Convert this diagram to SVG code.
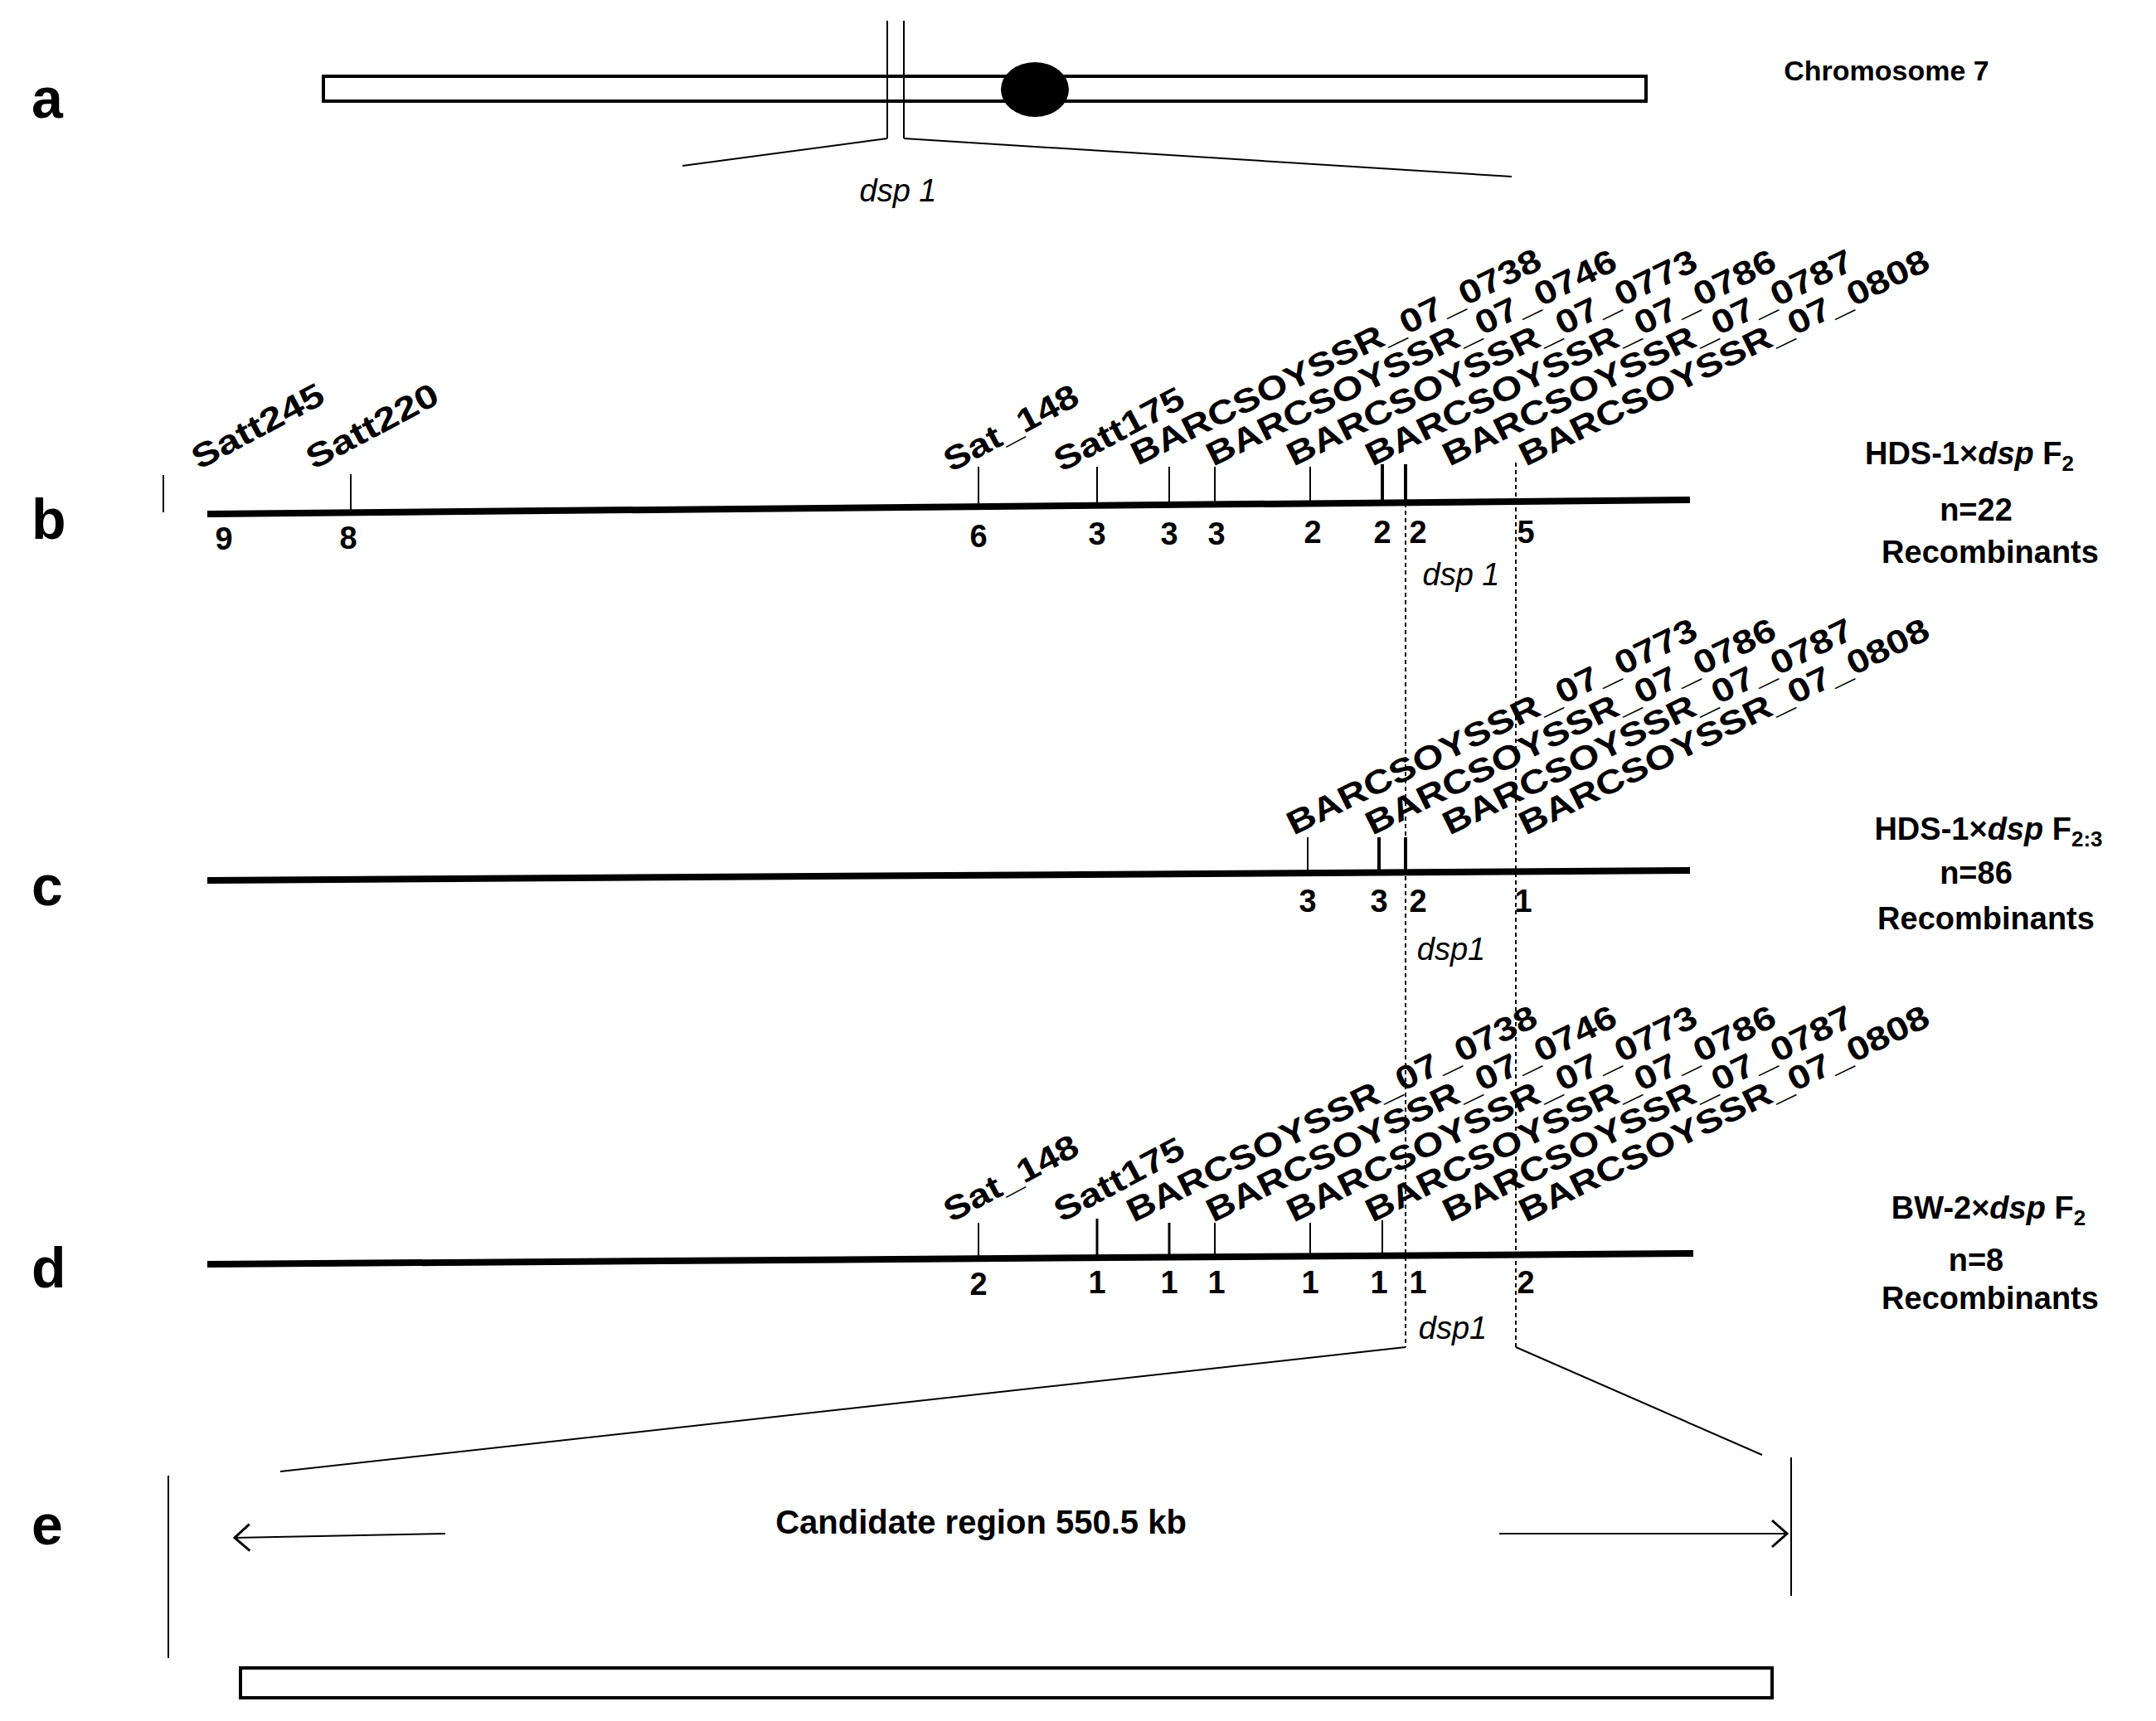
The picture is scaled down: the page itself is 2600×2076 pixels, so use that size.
<svg xmlns="http://www.w3.org/2000/svg" width="2600" height="2076" viewBox="0 0 2600 2076">
<style>
text{font-family:"Liberation Sans",Arial,sans-serif;fill:#000}
.lab{font-size:68px;font-weight:bold}
.mk{font-size:40px;font-weight:bold}
.num{font-size:38px;font-weight:bold;text-anchor:middle}
.side{font-size:38px;font-weight:bold;text-anchor:middle}
.it{font-style:italic;font-weight:normal;font-size:38px}
.thin{stroke:#000;stroke-width:2;fill:none}
.chr{stroke:#000;stroke-width:8;fill:none}
.dash{stroke:#000;stroke-width:2;stroke-dasharray:5,4;fill:none}
</style>
<defs>
<marker id="ah" viewBox="0 0 20 20" refX="18" refY="10" markerWidth="20" markerHeight="20" markerUnits="userSpaceOnUse" orient="auto">
<path d="M2,2 L18,10 L2,18" fill="none" stroke="#000" stroke-width="2"/>
</marker>
<marker id="ahl" viewBox="0 0 40 40" refX="38" refY="20" markerWidth="40" markerHeight="40" markerUnits="userSpaceOnUse" orient="auto">
<path d="M20,4 L38,20 L20,36" fill="none" stroke="#000" stroke-width="3"/>
</marker>
</defs>
<rect width="2600" height="2076" fill="#fff"/>

<g id="panelA">
<text class="lab" x="38" y="142">a</text>
<rect x="390" y="92" width="1595" height="30" fill="#fff" stroke="#000" stroke-width="4"/>
<ellipse cx="1248" cy="108" rx="41" ry="33" fill="#000"/>
<line class="thin" x1="1070" y1="25" x2="1070" y2="167" stroke-width="3"/>
<line class="thin" x1="1090" y1="25" x2="1090" y2="167" stroke-width="3"/>
<text x="2275" y="97" font-size="34" font-weight="bold" text-anchor="middle">Chromosome 7</text>
<text class="it" x="1083" y="243" text-anchor="middle">dsp 1</text>
</g>

<g id="panelB">
<text class="lab" x="38" y="650">b</text>
<line class="thin" x1="197" y1="573" x2="197" y2="618" stroke-width="3"/>
<line class="chr" x1="250" y1="620" x2="2038" y2="603"/>
<g class="thin">
<line x1="423" y1="572" x2="423" y2="618"/>
<line x1="1180" y1="563" x2="1180" y2="612"/>
<line x1="1323" y1="563" x2="1323" y2="610"/>
<line x1="1410" y1="563" x2="1410" y2="610"/>
<line x1="1465" y1="563" x2="1465" y2="610"/>
<line x1="1580" y1="563" x2="1580" y2="608"/>
<line x1="1667" y1="560" x2="1667" y2="607" stroke-width="4"/>
<line x1="1695" y1="560" x2="1695" y2="607" stroke-width="4"/>
</g>
<text class="mk" transform="rotate(-28 240 567)" x="240" y="567" textLength="175" lengthAdjust="spacingAndGlyphs">Satt245</text>
<text class="mk" transform="rotate(-28 378 567)" x="378" y="567" textLength="175" lengthAdjust="spacingAndGlyphs">Satt220</text>
<text class="mk" transform="rotate(-28 1147 570)" x="1147" y="570" textLength="178" lengthAdjust="spacingAndGlyphs">Sat_148</text>
<text class="mk" transform="rotate(-28 1280 570)" x="1280" y="570" textLength="172" lengthAdjust="spacingAndGlyphs">Satt175</text>
<text class="mk" transform="rotate(-26 1372 562)" x="1372" y="562" textLength="545" lengthAdjust="spacingAndGlyphs">BARCSOYSSR_07_0738</text>
<text class="mk" transform="rotate(-26 1463 563)" x="1463" y="563" textLength="545" lengthAdjust="spacingAndGlyphs">BARCSOYSSR_07_0746</text>
<text class="mk" transform="rotate(-26 1560 563)" x="1560" y="563" textLength="545" lengthAdjust="spacingAndGlyphs">BARCSOYSSR_07_0773</text>
<text class="mk" transform="rotate(-26 1655 563)" x="1655" y="563" textLength="545" lengthAdjust="spacingAndGlyphs">BARCSOYSSR_07_0786</text>
<text class="mk" transform="rotate(-26 1748 563)" x="1748" y="563" textLength="545" lengthAdjust="spacingAndGlyphs">BARCSOYSSR_07_0787</text>
<text class="mk" transform="rotate(-26 1840 563)" x="1840" y="563" textLength="545" lengthAdjust="spacingAndGlyphs">BARCSOYSSR_07_0808</text>
<text class="num" x="270" y="663">9</text>
<text class="num" x="420" y="662">8</text>
<text class="num" x="1180" y="660">6</text>
<text class="num" x="1323" y="657">3</text>
<text class="num" x="1410" y="657">3</text>
<text class="num" x="1467" y="657">3</text>
<text class="num" x="1583" y="655">2</text>
<text class="num" x="1667" y="655">2</text>
<text class="num" x="1710" y="655">2</text>
<text class="num" x="1840" y="655">5</text>
<text class="it" x="1762" y="706" text-anchor="middle">dsp 1</text>
<text class="side" x="2375" y="560">HDS-1×<tspan font-style="italic">dsp</tspan>   F<tspan font-size="26" dy="8">2</tspan></text>
<text class="side" x="2383" y="628">n=22</text>
<text class="side" x="2400" y="679">Recombinants</text>
</g>

<g id="panelC">
<text class="lab" x="38" y="1092">c</text>
<line class="chr" x1="250" y1="1062" x2="2038" y2="1050"/>
<g class="thin">
<line x1="1577" y1="1010" x2="1577" y2="1053"/>
<line x1="1663" y1="1010" x2="1663" y2="1052" stroke-width="4"/>
<line x1="1695" y1="1010" x2="1695" y2="1052" stroke-width="4"/>
</g>
<text class="mk" transform="rotate(-26 1560 1008)" x="1560" y="1008" textLength="545" lengthAdjust="spacingAndGlyphs">BARCSOYSSR_07_0773</text>
<text class="mk" transform="rotate(-26 1655 1008)" x="1655" y="1008" textLength="545" lengthAdjust="spacingAndGlyphs">BARCSOYSSR_07_0786</text>
<text class="mk" transform="rotate(-26 1748 1008)" x="1748" y="1008" textLength="545" lengthAdjust="spacingAndGlyphs">BARCSOYSSR_07_0787</text>
<text class="mk" transform="rotate(-26 1840 1008)" x="1840" y="1008" textLength="545" lengthAdjust="spacingAndGlyphs">BARCSOYSSR_07_0808</text>
<text class="num" x="1577" y="1100" font-weight="normal">3</text>
<text class="num" x="1663" y="1100">3</text>
<text class="num" x="1710" y="1100">2</text>
<text class="num" x="1837" y="1100" font-weight="normal">1</text>
<text class="it" x="1750" y="1158" text-anchor="middle">dsp1</text>
<text class="side" x="2398" y="1013">HDS-1×<tspan font-style="italic">dsp</tspan>   F<tspan font-size="26" dy="8">2:3</tspan></text>
<text class="side" x="2383" y="1066">n=86</text>
<text class="side" x="2395" y="1121">Recombinants</text>
</g>

<g id="panelD">
<text class="lab" x="38" y="1553">d</text>
<line class="chr" x1="250" y1="1525" x2="2042" y2="1512"/>
<g class="thin">
<line x1="1180" y1="1475" x2="1180" y2="1522"/>
<line x1="1323" y1="1470" x2="1323" y2="1520" stroke-width="3"/>
<line x1="1410" y1="1475" x2="1410" y2="1519" stroke-width="3"/>
<line x1="1465" y1="1475" x2="1465" y2="1519"/>
<line x1="1580" y1="1475" x2="1580" y2="1518"/>
<line x1="1667" y1="1472" x2="1667" y2="1517"/>
</g>
<text class="mk" transform="rotate(-28 1147 1475)" x="1147" y="1475" textLength="178" lengthAdjust="spacingAndGlyphs">Sat_148</text>
<text class="mk" transform="rotate(-28 1280 1475)" x="1280" y="1475" textLength="172" lengthAdjust="spacingAndGlyphs">Satt175</text>
<text class="mk" transform="rotate(-26 1367 1475)" x="1367" y="1475" textLength="545" lengthAdjust="spacingAndGlyphs">BARCSOYSSR_07_0738</text>
<text class="mk" transform="rotate(-26 1463 1475)" x="1463" y="1475" textLength="545" lengthAdjust="spacingAndGlyphs">BARCSOYSSR_07_0746</text>
<text class="mk" transform="rotate(-26 1560 1475)" x="1560" y="1475" textLength="545" lengthAdjust="spacingAndGlyphs">BARCSOYSSR_07_0773</text>
<text class="mk" transform="rotate(-26 1655 1475)" x="1655" y="1475" textLength="545" lengthAdjust="spacingAndGlyphs">BARCSOYSSR_07_0786</text>
<text class="mk" transform="rotate(-26 1748 1475)" x="1748" y="1475" textLength="545" lengthAdjust="spacingAndGlyphs">BARCSOYSSR_07_0787</text>
<text class="mk" transform="rotate(-26 1840 1475)" x="1840" y="1475" textLength="545" lengthAdjust="spacingAndGlyphs">BARCSOYSSR_07_0808</text>
<text class="num" x="1180" y="1562">2</text>
<text class="num" x="1323" y="1560">1</text>
<text class="num" x="1410" y="1560">1</text>
<text class="num" x="1467" y="1560">1</text>
<text class="num" x="1580" y="1560">1</text>
<text class="num" x="1663" y="1560">1</text>
<text class="num" x="1710" y="1560">1</text>
<text class="num" x="1840" y="1560">2</text>
<text class="it" x="1752" y="1615" text-anchor="middle">dsp1</text>
<text class="side" x="2398" y="1470">BW-2×<tspan font-style="italic">dsp</tspan>   F<tspan font-size="26" dy="8">2</tspan></text>
<text class="side" x="2383" y="1533">n=8</text>
<text class="side" x="2400" y="1579">Recombinants</text>
</g>

<g id="panelE">
<text class="lab" x="38" y="1863">e</text>
<line class="thin" x1="203" y1="1780" x2="203" y2="2000" stroke-width="3"/>
<line class="thin" x1="2160" y1="1758" x2="2160" y2="1925"/>
<text x="1183" y="1850" font-size="40" font-weight="bold" text-anchor="middle">Candidate region 550.5 kb</text>
<rect x="290" y="2012" width="1847" height="36" fill="#fff" stroke="#000" stroke-width="4"/>
</g>

<g id="connectors">
<line class="thin" x1="1070" y1="167" x2="823" y2="200" stroke-width="3"/>
<line class="thin" x1="1090" y1="167" x2="1823" y2="213" stroke-width="3"/>
<line class="dash" x1="1695" y1="607" x2="1695" y2="1625"/>
<line class="dash" x1="1828" y1="558" x2="1828" y2="1625"/>
<line class="thin" x1="1695" y1="1625" x2="338" y2="1775" stroke-width="3"/>
<line class="thin" x1="1828" y1="1625" x2="2125" y2="1755" stroke-width="3"/>
<line class="thin" x1="537" y1="1850" x2="283" y2="1855" stroke-width="3" marker-end="url(#ahl)"/>
<line class="thin" x1="1808" y1="1850" x2="2155" y2="1850" stroke-width="3" marker-end="url(#ahl)"/>
</g>
</svg>
